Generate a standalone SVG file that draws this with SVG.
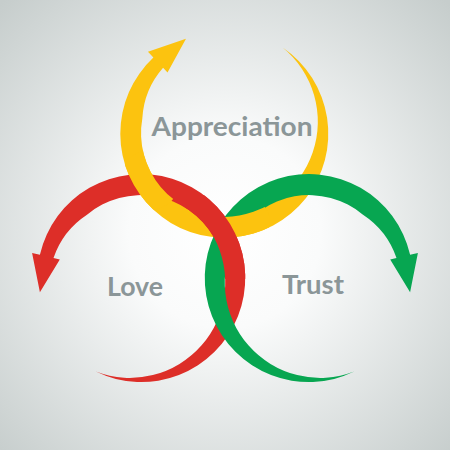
<svg xmlns="http://www.w3.org/2000/svg" width="450" height="450" viewBox="0 0 450 450">
  <defs>
    <radialGradient id="bg" cx="225" cy="232" r="320" gradientUnits="userSpaceOnUse">
      <stop offset="0" stop-color="#ffffff"/>
      <stop offset="0.3" stop-color="#fafbfb"/>
      <stop offset="1" stop-color="#c6cdcc"/>
    </radialGradient>
    <path id="arw" d="M45.2,92.6 A104,104 0 1 1 101.1,-24.3 L108.9,-26.1 L101.1,13.3 L81.2,-19.5 L87.5,-21.0 A84,84 0 0 0 54.0,-64.3 A84,84 0 0 0 -72.7,-42.0 A95.4,95.4 0 0 0 45.2,92.6 Z"/>
    <clipPath id="clipA"><circle cx="150" cy="180" r="30"/></clipPath>
    <clipPath id="clipD"><circle cx="246" cy="222" r="24"/></clipPath>
    <clipPath id="clipE"><rect x="185" y="195" width="75" height="84"/></clipPath>
  </defs>
  <style>
    .y { fill: #fcc30f; }
    .r { fill: #dd2e28; }
    .g { fill: #07a651; }
    .lbl { font-family: Lato, "Open Sans", "Liberation Sans", sans-serif; font-weight: bold; font-size: 27px; fill: #8b9698; text-anchor: middle; }
  </style>
  <rect x="0" y="0" width="450" height="450" fill="url(#bg)"/>
  <g id="arrows">
    <use id="yellow-arrow" href="#arw" class="y" transform="translate(225,133) rotate(-120)"/>
    <use id="red-arrow" href="#arw" class="r" transform="translate(141,279) scale(-1,1)"/>
    <use id="green-arrow" href="#arw" class="g" transform="translate(309,279)"/>
    <g clip-path="url(#clipA)"><use href="#arw" class="y" transform="translate(225,133) rotate(-120)"/></g>
    <g clip-path="url(#clipD)"><use href="#arw" class="y" transform="translate(225,133) rotate(-120)"/></g>
    <g clip-path="url(#clipE)"><use href="#arw" class="r" transform="translate(141,279) scale(-1,1)"/></g>
  </g>
  <g id="appreciation"><text class="lbl" x="232" y="136" textLength="161" lengthAdjust="spacingAndGlyphs">Appreciation</text></g>
  <g id="love"><text class="lbl" x="135" y="296" textLength="56" lengthAdjust="spacingAndGlyphs">Love</text></g>
  <g id="trust"><text class="lbl" x="313" y="293.5" textLength="62" lengthAdjust="spacingAndGlyphs">Trust</text></g>
</svg>
